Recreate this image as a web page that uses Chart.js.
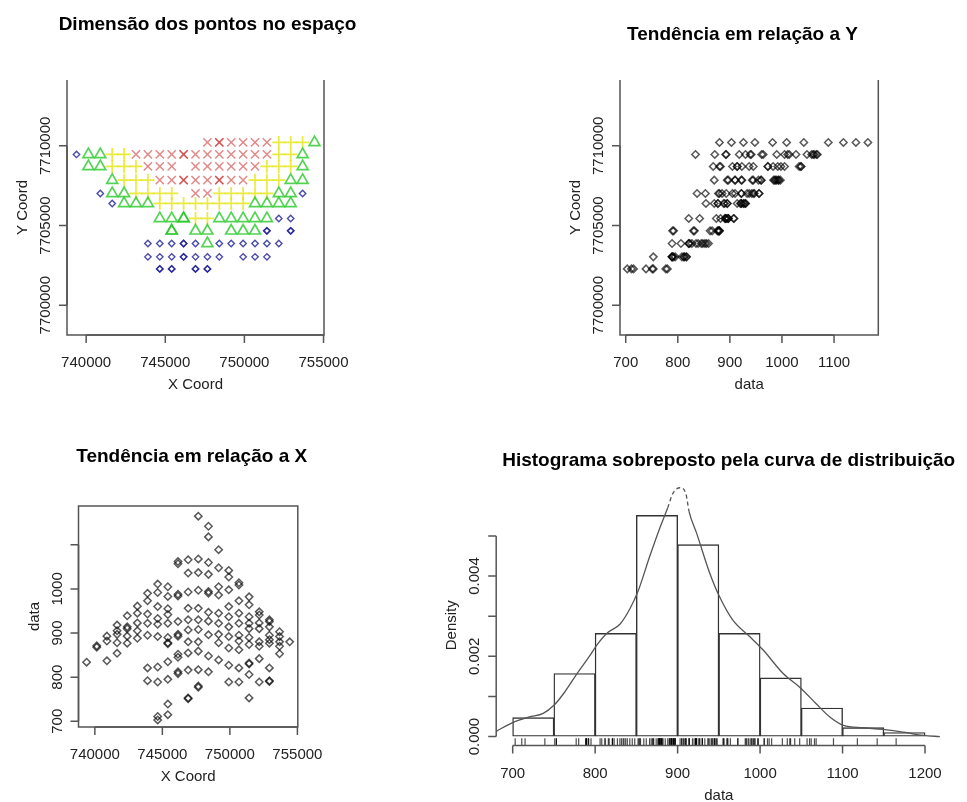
<!DOCTYPE html>
<html>
<head>
<meta charset="utf-8">
<script src="https://cdn.jsdelivr.net/npm/chart.js@4"></script>
<style>
  html, body { margin: 0; background: #fff; }
  #wrap { position: relative; width: 967px; height: 802px; }
  #wrap canvas { position: absolute; left: 0; top: 0; }
</style>
</head>
<body>
<div id="wrap">
  <canvas id="espaco" width="967" height="802"></canvas>
  <canvas id="tendY" width="967" height="802"></canvas>
  <canvas id="tendX" width="967" height="802"></canvas>
  <canvas id="hist" width="967" height="802"></canvas>
</div>
<script>
const FONT = '"Liberation Sans", Arial, Helvetica, sans-serif';
const TICK = 8;

// sampling grid (UTM, metres)
const gridX = [739390, 740142, 740894, 741646, 742398, 743150, 743902, 744654, 745406, 746158, 746910,
  747662, 748414, 749166, 749918, 750670, 751422, 752174, 752926, 753678, 754430];
const gridY = [7710213, 7709460, 7708707, 7707847, 7707012, 7706384, 7705443, 7704664, 7703873, 7703032, 7702279];

// [row, column, value]
const samples = [
  [0,11,1165],[0,12,1142],[0,12,1118],[0,13,1089],[0,14,1042],[0,15,1009],[0,16,982],[0,17,948],[0,18,926],[0,19,903],[0,20,880],
  [1,0,834],[1,1,871],[1,2,893],[1,3,918],[1,4,939],[1,5,961],[1,6,990],[1,7,1011],[1,8,1005],[1,9,1057],[1,9,1062],
  [1,10,1066],[1,11,1068],[1,12,1060],[1,13,1048],[1,14,1027],[1,15,1014],[1,16,964],[1,17,941],[1,18,930],[1,19,892],
  [2,1,868],[2,2,882],[2,3,905],[2,4,914],[2,5,945],[2,6,973],[2,7,992],[2,8,983],[2,10,1036],[2,11,1037],[2,12,1033],
  [2,13,1005],[2,14,998],[2,15,973],[2,16,937],[2,17,923],[2,18,914],[2,19,880],
  [3,3,897],[3,4,910],[3,5,923],[3,6,943],[3,7,960],[3,8,955],[3,9,984],[3,9,988],[3,10,993],[3,11,997],[3,12,990],
  [3,12,994],[3,13,986],[3,14,960],[3,15,945],[3,16,922],[3,17,910],[3,18,895],[3,19,870],
  [4,2,837],[4,3,878],[4,4,893],[4,5,905],[4,6,922],[4,7,933],[4,8,942],[4,10,956],[4,11,956],[4,12,947],[4,13,945],
  [4,14,937],[4,15,922],[4,16,910],[4,17,880],[4,18,885],[4,19,853],
  [5,3,854],[5,4,877],[5,5,888],[5,6,895],[5,7,920],[5,8,922],[5,9,926],[5,10,930],[5,11,930],[5,12,927],[5,13,922],
  [5,14,914],[5,15,895],[5,16,890],[5,17,870],[5,18,877],
  [6,7,892],[6,8,890],[6,9,893],[6,9,897],[6,10,907],[6,11,908],[6,12,896],[6,13,897],[6,14,892],[6,15,882],[6,16,874],
  [6,17,842],[6,18,821],
  [7,8,878],[7,8,876],[7,10,880],[7,11,880],[7,13,878],[7,14,866],[7,15,862],[7,16,830],[7,16,832],[7,18,790],[7,18,792],
  [8,6,821],[8,7,823],[8,8,835],[8,9,845],[8,9,852],[8,10,855],[8,11,859],[8,12,848],[8,13,839],[8,14,827],[8,15,821],
  [8,16,806],[8,17,789],
  [9,6,792],[9,7,789],[9,8,795],[9,9,808],[9,9,812],[9,10,816],[9,11,817],[9,12,812],[9,14,789],[9,15,789],[9,16,753],
  [10,7,703],[10,7,711],[10,8,715],[10,8,739],[10,10,751],[10,10,753],[10,11,777],[10,11,780]
];

// quartile limits splitting the symbols of the spatial plot
const classBreaks = [858, 900, 950];

// histogram (bins of 50) as density, and the kernel density curve
const binWidth = 50;
const binMids = [725, 775, 825, 875, 925, 975, 1025, 1075, 1125, 1175];
const binDensity = [0.00048, 0.00158, 0.00258, 0.00552, 0.00479, 0.00258, 0.00147, 0.00072, 0.00023, 0.00011];
const kdeX = [680, 700, 720, 737, 750, 762, 778, 794, 802, 814, 830, 842, 852, 866, 879, 888, 894, 903, 910, 914,
  923, 939, 950, 967, 988, 1004, 1028, 1048, 1068, 1085, 1101, 1125, 1149, 1174, 1198, 1218];
const kdeY = [0.00013, 0.00035, 0.00049, 0.00058, 0.00078, 0.00108, 0.00157, 0.00203, 0.00228, 0.00257, 0.0028,
  0.00318, 0.00362, 0.00448, 0.00523, 0.0057, 0.00605, 0.0062, 0.00605, 0.0056, 0.00507, 0.00407, 0.00352, 0.0029,
  0.00248, 0.00215, 0.00157, 0.00123, 0.00082, 0.00048, 0.00028, 0.00022, 0.00018, 0.00011, 0.00003, 0];

// axis ticks
const coordXTicks = [740000, 745000, 750000, 755000];
const coordYTicks = [7700000, 7705000, 7710000];
const dataTicks = [700, 800, 900, 1000, 1100];
const histXTicks = [700, 800, 900, 1000, 1100, 1200];
const densTicks = [0, 0.001, 0.002, 0.003, 0.004, 0.005];
const densLabels = ['0.000', '', '0.002', '', '0.004', ''];

function classOf(v) {
  let k = 0;
  while (k < classBreaks.length && v >= classBreaks[k]) k++;
  return k;
}

// plot regions in page pixels
const regions = {
  espaco: { left: 67, top: 80, right: 324, bottom: 335 },
  tendY: { left: 620, top: 80, right: 878.3, bottom: 335 },
  tendX: { left: 78.5, top: 506, right: 297.8, bottom: 727 },
  hist: { left: 496.2, top: 505, right: 941.5, bottom: 745.5 }
};

// base-graphics style axes for each panel
const axisSpec = {
  espaco: {
    box: 'open', xTicks: coordXTicks, xLabels: coordXTicks.map(String),
    yTicks: coordYTicks, yLabels: coordYTicks.map(String),
    xTitle: 'X Coord', yTitle: 'Y Coord',
    title: { text: 'Dimensão dos pontos no espaço', x: 207.5, y: 30 }
  },
  tendY: {
    box: 'open', xTicks: dataTicks, xLabels: dataTicks.map(String),
    yTicks: coordYTicks, yLabels: coordYTicks.map(String),
    xTitle: 'data', yTitle: 'Y Coord',
    title: { text: 'Tendência em relação a Y', x: 742.5, y: 40 }
  },
  tendX: {
    box: 'full', xTicks: coordXTicks, xLabels: coordXTicks.map(String),
    yTicks: dataTicks, yLabels: ['700', '800', '900', '1000', ''],
    xTitle: 'X Coord', yTitle: 'data',
    title: { text: 'Tendência em relação a X', x: 191.7, y: 461.7 }
  },
  hist: {
    box: null, xTicks: histXTicks, xLabels: histXTicks.map(String),
    yTicks: densTicks, yLabels: densLabels,
    xTitle: 'data', yTitle: 'Density',
    title: { text: 'Histograma sobreposto pela curva de distribuição', x: 728.7, y: 466 }
  }
};

const rAxes = {
  id: 'rAxes',
  afterDatasetsDraw(chart) {
    const o = axisSpec[chart.canvas.id];
    if (!o) return;
    const { ctx, chartArea: a, scales: { x, y } } = chart;
    ctx.save();
    ctx.strokeStyle = '#555';
    ctx.lineWidth = 1.5;

    if (o.box) {
      ctx.beginPath();
      if (o.box === 'full') {
        ctx.rect(a.left, a.top, a.right - a.left, a.bottom - a.top);
      } else {
        ctx.moveTo(a.left, a.top);
        ctx.lineTo(a.left, a.bottom);
        ctx.lineTo(a.right, a.bottom);
        ctx.lineTo(a.right, a.top);
      }
      ctx.stroke();
    }

    // bottom axis: line from first to last tick, ticks pointing out
    const xs = o.xTicks.map(v => x.getPixelForValue(v));
    ctx.beginPath();
    ctx.moveTo(xs[0], a.bottom);
    ctx.lineTo(xs[xs.length - 1], a.bottom);
    xs.forEach(px => { ctx.moveTo(px, a.bottom); ctx.lineTo(px, a.bottom + TICK); });
    // left axis
    const ys = o.yTicks.map(v => y.getPixelForValue(v));
    ctx.moveTo(a.left, ys[0]);
    ctx.lineTo(a.left, ys[ys.length - 1]);
    ys.forEach(py => { ctx.moveTo(a.left, py); ctx.lineTo(a.left - TICK, py); });
    ctx.stroke();

    ctx.fillStyle = '#222';
    ctx.font = '15px ' + FONT;
    ctx.textAlign = 'center';
    ctx.textBaseline = 'alphabetic';
    o.xLabels.forEach((t, i) => { if (t) ctx.fillText(t, xs[i], a.bottom + 32); });
    o.yLabels.forEach((t, i) => {
      if (!t) return;
      ctx.save();
      ctx.translate(a.left - 17, ys[i]);
      ctx.rotate(-Math.PI / 2);
      ctx.fillText(t, 0, 0);
      ctx.restore();
    });

    ctx.fillText(o.xTitle, (a.left + a.right) / 2, a.bottom + 54);
    ctx.save();
    ctx.translate(a.left - 40, (a.top + a.bottom) / 2);
    ctx.rotate(-Math.PI / 2);
    ctx.fillText(o.yTitle, 0, 0);
    ctx.restore();

    ctx.fillStyle = '#000';
    ctx.font = 'bold 19px ' + FONT;
    ctx.fillText(o.title.text, o.title.x, o.title.y);
    ctx.restore();
  }
};
Chart.register(rAxes);

function padFor(r) {
  return { left: r.left, top: r.top, right: 967 - r.right, bottom: 802 - r.bottom };
}
function hidden(min, max, extra) {
  return Object.assign({ type: 'linear', display: false, min: min, max: max }, extra || {});
}
function baseOptions(region, x, y) {
  return {
    responsive: false,
    animation: false,
    events: [],
    devicePixelRatio: 1,
    layout: { padding: padFor(region) },
    scales: { x: x, y: y },
    plugins: { legend: { display: false }, tooltip: { enabled: false } }
  };
}

const coordXRange = [738790, 755030];
const coordYRange = [7698130, 7714130];

// spatial plot, one symbol per quartile class
const classStyle = [
  { label: '1º quartil', style: 'rectRot', radius: 3.2, width: 1.4, color: 'rgba(30,30,150,0.8)' },
  { label: '2º quartil', style: 'triangle', radius: 6.3, width: 1.7, color: 'rgba(40,200,40,0.8)' },
  { label: '3º quartil', style: 'cross', radius: 6.5, width: 1.7, color: 'rgba(230,230,30,0.85)' },
  { label: '4º quartil', style: 'crossRot', radius: 5.8, width: 1.5, color: 'rgba(200,40,40,0.55)' }
];

new Chart(document.getElementById('espaco'), {
  type: 'scatter',
  data: {
    datasets: classStyle.map((st, k) => ({
      label: st.label,
      data: samples.filter(s => classOf(s[2]) === k).map(s => ({ x: gridX[s[1]], y: gridY[s[0]] })),
      pointStyle: st.style,
      pointRadius: st.radius,
      pointBorderWidth: st.width,
      pointBorderColor: st.color,
      pointBackgroundColor: 'rgba(0,0,0,0)'
    }))
  },
  options: baseOptions(regions.espaco, hidden(coordXRange[0], coordXRange[1]), hidden(coordYRange[0], coordYRange[1]))
});

const ringStyle = {
  pointStyle: 'rectRot',
  pointRadius: 3.7,
  pointBorderWidth: 1.5,
  pointBorderColor: 'rgba(0,0,0,0.65)',
  pointBackgroundColor: 'rgba(0,0,0,0)'
};

new Chart(document.getElementById('tendY'), {
  type: 'scatter',
  data: {
    datasets: [Object.assign({
      label: 'data',
      data: samples.map(s => ({ x: s[2], y: gridY[s[0]] }))
    }, ringStyle)]
  },
  options: baseOptions(regions.tendY, hidden(689, 1185), hidden(coordYRange[0], coordYRange[1]))
});

new Chart(document.getElementById('tendX'), {
  type: 'scatter',
  data: {
    datasets: [Object.assign({
      label: 'data',
      data: samples.map(s => ({ x: gridX[s[1]], y: s[2] }))
    }, ringStyle)]
  },
  options: baseOptions(regions.tendX, hidden(coordXRange[0], coordXRange[1]), hidden(687, 1188))
});

// histogram with density curve and rug
const histRange = [680, 1220];
const densMin = -0.000222, densMax = 0.00577;
const rugY = densMin + 0.015 * (densMax - densMin);
const histPxPerUnit = (regions.hist.right - regions.hist.left) / (histRange[1] - histRange[0]);

new Chart(document.getElementById('hist'), {
  type: 'bar',
  data: {
    datasets: [
      {
        type: 'line',
        label: 'densidade',
        data: kdeX.map((v, i) => ({ x: v, y: kdeY[i] })),
        borderColor: '#555',
        borderWidth: 1.3,
        pointRadius: 0,
        cubicInterpolationMode: 'monotone',
        clip: false,
        segment: {
          borderDash: c => Math.max(c.p0.parsed.y, c.p1.parsed.y) > 0.00578 ? [4, 3] : undefined
        }
      },
      {
        type: 'scatter',
        label: 'rug',
        data: samples.map(s => ({ x: s[2], y: rugY })),
        pointStyle: 'line',
        rotation: 90,
        pointRadius: 3.6,
        pointBorderWidth: 1.2,
        pointBorderColor: 'rgba(0,0,0,0.7)'
      },
      {
        type: 'bar',
        label: 'hist',
        data: binMids.map((v, i) => ({ x: v, y: binDensity[i] })),
        backgroundColor: 'rgba(0,0,0,0)',
        borderColor: '#333',
        borderWidth: 1.4,
        borderSkipped: false,
        inflateAmount: 0,
        barThickness: binWidth * histPxPerUnit + 0.8
      }
    ]
  },
  options: baseOptions(regions.hist, hidden(histRange[0], histRange[1], { offset: false }), hidden(densMin, densMax))
});
</script>
</body>
</html>
